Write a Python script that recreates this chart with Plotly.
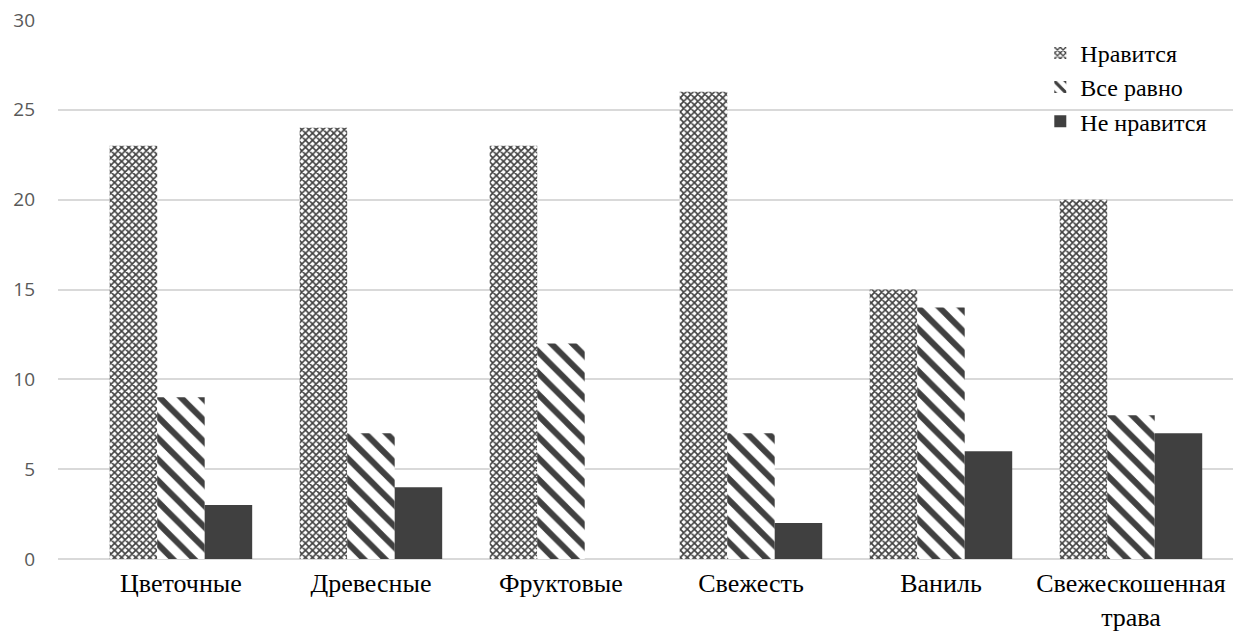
import plotly.graph_objects as go

categories = ["Цветочные", "Древесные", "Фруктовые", "Свежесть", "Ваниль", "Свежескошенная<br>трава"]
series_names = ["Нравится", "Все равно", "Не нравится"]
likes = [23, 24, 23, 26, 15, 20]
neutral = [9, 7, 12, 7, 14, 8]
dislikes = [3, 4, 0, 2, 6, 7]
y_ticks = [0, 5, 10, 15, 20, 25, 30]

dark = "#404040"
serif = "Liberation Serif, Times New Roman, serif"

fig = go.Figure()
fig.add_trace(go.Bar(
    name=series_names[0], x=categories, y=likes,
    marker=dict(color="white", line=dict(width=0),
                pattern=dict(shape="x", size=5, solidity=0.55,
                             fgcolor=dark, bgcolor="white", fillmode="replace")),
))
fig.add_trace(go.Bar(
    name=series_names[1], x=categories, y=neutral,
    marker=dict(color="white", line=dict(width=0),
                pattern=dict(shape="\\", size=15, solidity=0.4,
                             fgcolor=dark, bgcolor="white", fillmode="replace")),
))
fig.add_trace(go.Bar(
    name=series_names[2], x=categories, y=dislikes,
    marker=dict(color=dark, line=dict(width=0)),
))

fig.update_layout(
    width=1245, height=634,
    margin=dict(l=58, r=12, t=20, b=75, autoexpand=False),
    paper_bgcolor="white", plot_bgcolor="white",
    barmode="group", bargap=0.25, bargroupgap=0,
    showlegend=True,
    legend=dict(x=0.836, y=0.98, xanchor="left", yanchor="top",
                font=dict(family=serif, size=24, color="black"),
                bgcolor="rgba(0,0,0,0)", itemsizing="constant",
                itemwidth=30, tracegroupgap=0),
    xaxis=dict(
        type="category", range=[-0.647, 5.537],
        showgrid=False, showline=False, ticks="", automargin=False,
        tickfont=dict(family=serif, size=26, color="black"),
        ticklabelstandoff=6,
    ),
    yaxis=dict(
        range=[0, 30], tickvals=y_ticks, automargin=False,
        showgrid=True, gridcolor="#d9d9d9", gridwidth=1.5,
        zeroline=True, zerolinecolor="#d9d9d9", zerolinewidth=1.5,
        showline=False, ticks="",
        tickfont=dict(family="Open Sans, sans-serif", size=19, color="#595959"),
        ticklabelstandoff=22,
    ),
)

fig.write_html("out.html")
